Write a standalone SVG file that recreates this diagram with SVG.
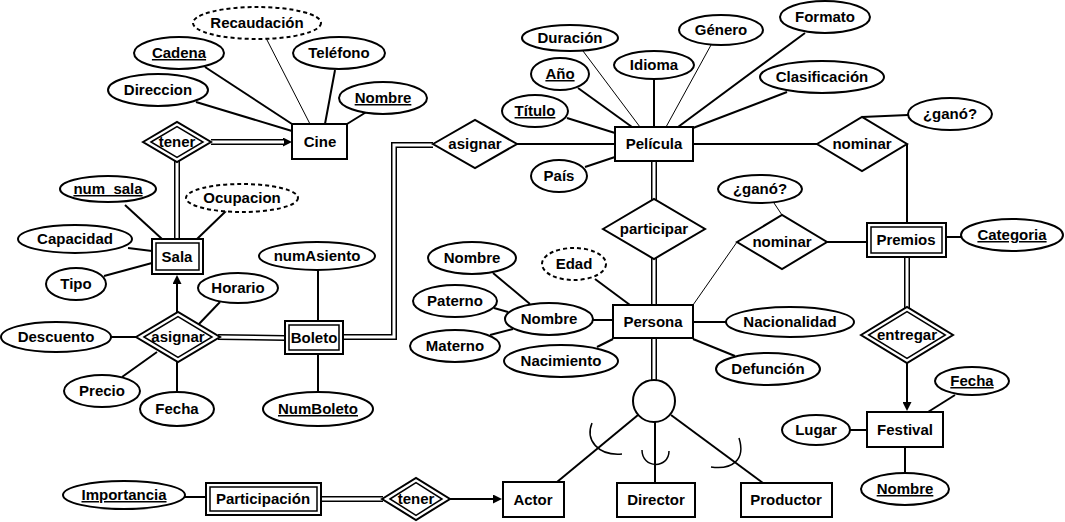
<svg xmlns="http://www.w3.org/2000/svg" width="1065" height="522" viewBox="0 0 1065 522">
<defs>
<marker id="arr" viewBox="0 0 10 10" refX="0" refY="5" markerWidth="10" markerHeight="9" markerUnits="userSpaceOnUse" orient="auto"><path d="M0,0 L10,5 L0,10 z" fill="#000"/></marker>
<style>
.e{fill:#fff;stroke:#000;stroke-width:2}
.d{stroke-dasharray:4 3}
.r{fill:#fff;stroke:#000;stroke-width:2}
.ri{fill:none;stroke:#000;stroke-width:1.5}
.t{font-family:"Liberation Sans",Arial,sans-serif;font-weight:bold;font-size:15px;text-anchor:middle;fill:#000}
.u{text-decoration:underline}
.l{stroke:#000;stroke-width:2;fill:none}
.th{stroke:#000;stroke-width:1;fill:none}
.bo{stroke:#000;stroke-width:6;fill:none}
.bi{stroke:#fff;stroke-width:3;fill:none}
.a{stroke:#000;stroke-width:1.5;fill:none}
</style>
</defs>
<rect width="1065" height="522" fill="#fff"/>
<g id="connectors">
<!-- Cine -->
<line class="l" x1="205" y1="67" x2="292" y2="124"/>
<line class="l" x1="196" y1="102" x2="292" y2="131"/>
<line class="th" x1="266" y1="38" x2="310" y2="124"/>
<line class="l" x1="335" y1="70" x2="325" y2="124"/>
<line class="l" x1="368" y1="111" x2="347" y2="124"/>
<path class="bo" d="M211,142 L283,142" marker-end="url(#arr)"/>
<path class="bi" d="M208,142 L284,142"/>
<path class="bo" d="M177,160 L177,239"/>
<path class="bi" d="M177,158 L177,240"/>
<!-- Sala -->
<line class="l" x1="125" y1="205" x2="162" y2="239"/>
<line class="l" x1="226" y1="211" x2="197" y2="239"/>
<line class="l" x1="128" y1="248" x2="152" y2="251"/>
<line class="l" x1="104" y1="276" x2="152" y2="263"/>
<path class="l" d="M177,312 L177,284" marker-end="url(#arr)"/>
<!-- asignar left -->
<line class="l" x1="220" y1="302" x2="198" y2="325"/>
<line class="l" x1="110" y1="337" x2="136" y2="337"/>
<line class="l" x1="122" y1="377" x2="157" y2="352"/>
<line class="l" x1="177" y1="362" x2="177" y2="392"/>
<path class="bo" d="M218,337 L285,338"/>
<path class="bi" d="M216,337 L286,338"/>
<!-- Boleto -->
<line class="l" x1="318" y1="270" x2="318" y2="321"/>
<line class="l" x1="318" y1="354" x2="318" y2="391"/>
<path class="bo" d="M343,337 L394,337 L394,145 L433,145"/>
<path class="bi" d="M342,337 L394,337 L394,145 L434,145"/>
<!-- Pelicula -->
<line class="l" x1="517" y1="144" x2="615" y2="144"/>
<line class="th" x1="583" y1="51" x2="640" y2="127"/>
<line class="l" x1="578" y1="88" x2="632" y2="127"/>
<line class="l" x1="567" y1="118" x2="615" y2="133"/>
<line class="l" x1="654" y1="79" x2="654" y2="127"/>
<line class="th" x1="711" y1="45" x2="666" y2="127"/>
<line class="l" x1="805" y1="33" x2="678" y2="127"/>
<line class="l" x1="787" y1="92" x2="693" y2="128"/>
<line class="l" x1="585" y1="167" x2="615" y2="157"/>
<line class="l" x1="693" y1="144" x2="817" y2="144"/>
<polyline class="l" points="862,117 908,115"/>
<line class="l" x1="907" y1="144" x2="907" y2="223"/>
<path class="bo" d="M654,161 L654,200"/>
<path class="bi" d="M654,160 L654,201"/>
<path class="bo" d="M654,258 L654,305"/>
<path class="bi" d="M654,257 L654,306"/>
<path class="bo" d="M654,338 L654,381"/>
<path class="bi" d="M654,337 L654,382"/>
<!-- Persona -->
<line class="l" x1="493" y1="273" x2="530" y2="304"/>
<line class="l" x1="494" y1="308" x2="508" y2="312"/>
<line class="l" x1="490" y1="335" x2="513" y2="329"/>
<line class="l" x1="593" y1="320" x2="613" y2="320"/>
<line class="l" x1="595" y1="279" x2="630" y2="305"/>
<line class="l" x1="597" y1="347" x2="613" y2="339"/>
<line class="l" x1="693" y1="322" x2="726" y2="322"/>
<line class="l" x1="693" y1="339" x2="735" y2="356"/>
<line class="th" x1="693" y1="305" x2="737" y2="242"/>
<line class="th" x1="774" y1="203" x2="782" y2="215"/>
<line class="l" x1="827" y1="242" x2="867" y2="242"/>
<!-- Premios / Festival -->
<line class="l" x1="946" y1="237" x2="961" y2="237"/>
<path class="bo" d="M907,257 L907,308"/>
<path class="bi" d="M907,256 L907,309"/>
<path class="l" d="M907,363 L907,402" marker-end="url(#arr)"/>
<line class="l" x1="955" y1="395" x2="928" y2="412"/>
<line class="l" x1="850" y1="430" x2="867" y2="430"/>
<line class="l" x1="905" y1="447" x2="905" y2="473"/>
<!-- ISA -->
<line class="l" x1="638" y1="415" x2="557" y2="482"/>
<line class="l" x1="655" y1="422" x2="655" y2="483"/>
<line class="l" x1="671" y1="415" x2="763" y2="483"/>
<path class="a" d="M592,423 C585,440 598,456 622,454"/>
<path class="a" d="M642,450 C642,469 669,469 669,451"/>
<path class="a" d="M739,438 C746,460 732,470 711,467"/>
<!-- bottom -->
<line class="l" x1="185" y1="497" x2="206" y2="497"/>
<path class="bo" d="M321,499 L383,499"/>
<path class="bi" d="M320,499 L384,499"/>
<path class="l" d="M449,499 L493,499" marker-end="url(#arr)"/>
</g>

<g id="cine"><rect class="r" x="292" y="124" width="55" height="35"/><text class="t" x="320" y="147">Cine</text></g>
<g id="recaudacion"><ellipse class="e d" cx="257" cy="23" rx="64" ry="16"/><text class="t" x="257" y="28">Recaudación</text></g>
<g id="cadena"><ellipse class="e" cx="179" cy="53" rx="45" ry="16"/><text class="t u" x="179" y="58">Cadena</text></g>
<g id="telefono"><ellipse class="e" cx="339" cy="53" rx="46" ry="16"/><text class="t" x="339" y="58">Teléfono</text></g>
<g id="direccion"><ellipse class="e" cx="158" cy="90" rx="50" ry="16"/><text class="t" x="158" y="95">Direccion</text></g>
<g id="nombre-cine"><ellipse class="e" cx="383" cy="98" rx="44" ry="16"/><text class="t u" x="383" y="103">Nombre</text></g>
<g id="tener-cine"><polygon class="r" points="143,142 177,122 211,142 177,162"/><polygon class="ri" points="151,142 177,126.6 203,142 177,157.4"/><text class="t" x="177" y="147">tener</text></g>

<g id="sala"><rect class="r" x="152" y="239" width="51" height="35"/><rect class="ri" x="156" y="243" width="43" height="27"/><text class="t" x="177" y="262">Sala</text></g>
<g id="num-sala"><ellipse class="e" cx="108" cy="189" rx="48" ry="13"/><text class="t u" x="108" y="194">num_sala</text></g>
<g id="ocupacion"><ellipse class="e d" cx="242" cy="198" rx="56" ry="14"/><text class="t" x="242" y="203">Ocupacion</text></g>
<g id="capacidad"><ellipse class="e" cx="75" cy="239" rx="57" ry="14"/><text class="t" x="75" y="244">Capacidad</text></g>
<g id="tipo"><ellipse class="e" cx="76" cy="284" rx="30" ry="16"/><text class="t" x="76" y="289">Tipo</text></g>

<g id="asignar-sala"><polygon class="r" points="136,337 178,312 220,337 178,362"/><polygon class="ri" points="144,337 178,316.7 212,337 178,357.3"/><text class="t" x="178" y="342">asignar</text></g>
<g id="horario"><ellipse class="e" cx="238" cy="288" rx="40" ry="15"/><text class="t" x="238" y="293">Horario</text></g>
<g id="descuento"><ellipse class="e" cx="56" cy="337" rx="55" ry="15"/><text class="t" x="56" y="342">Descuento</text></g>
<g id="precio"><ellipse class="e" cx="102" cy="391" rx="38" ry="16"/><text class="t" x="102" y="396">Precio</text></g>
<g id="fecha-asig"><ellipse class="e" cx="177" cy="409" rx="37" ry="17"/><text class="t" x="177" y="414">Fecha</text></g>

<g id="boleto"><rect class="r" x="285" y="321" width="58" height="33"/><rect class="ri" x="289" y="325" width="50" height="25"/><text class="t" x="314" y="343">Boleto</text></g>
<g id="numasiento"><ellipse class="e" cx="317" cy="256" rx="58" ry="14"/><text class="t" x="317" y="261">numAsiento</text></g>
<g id="numboleto"><ellipse class="e" cx="318" cy="409" rx="55" ry="17"/><text class="t u" x="318" y="414">NumBoleto</text></g>

<g id="asignar-pel"><polygon class="r" points="433,144 475,120 517,144 475,168"/><text class="t" x="475" y="149">asignar</text></g>

<g id="pelicula"><rect class="r" x="615" y="127" width="78" height="34"/><text class="t" x="654" y="149">Película</text></g>
<g id="duracion"><ellipse class="e" cx="570" cy="38" rx="48" ry="13"/><text class="t" x="570" y="43">Duración</text></g>
<g id="anio"><ellipse class="e" cx="560" cy="74" rx="29" ry="16"/><text class="t u" x="560" y="79">Año</text></g>
<g id="titulo"><ellipse class="e" cx="535" cy="111" rx="33" ry="16"/><text class="t u" x="535" y="116">Título</text></g>
<g id="idioma"><ellipse class="e" cx="654" cy="65" rx="40" ry="14"/><text class="t" x="654" y="70">Idioma</text></g>
<g id="genero"><ellipse class="e" cx="721" cy="30" rx="42" ry="15"/><text class="t" x="721" y="35">Género</text></g>
<g id="formato"><ellipse class="e" cx="825" cy="17" rx="45" ry="16"/><text class="t" x="825" y="22">Formato</text></g>
<g id="clasificacion"><ellipse class="e" cx="822" cy="77" rx="62" ry="16"/><text class="t" x="822" y="82">Clasificación</text></g>
<g id="pais"><ellipse class="e" cx="559" cy="176" rx="28" ry="16"/><text class="t" x="559" y="181">País</text></g>
<g id="nominar-pel"><polygon class="r" points="817,144 862,117 907,144 862,171"/><text class="t" x="862" y="149">nominar</text></g>
<g id="gano-pel"><ellipse class="e" cx="950" cy="114" rx="42" ry="16"/><text class="t" x="950" y="119">¿ganó?</text></g>

<g id="participar"><polygon class="r" points="603,229 654,199 705,229 654,259"/><text class="t" x="654" y="234">participar</text></g>
<g id="persona"><rect class="r" x="613" y="305" width="80" height="33"/><text class="t" x="653" y="327">Persona</text></g>
<g id="edad"><ellipse class="e d" cx="574" cy="264" rx="32" ry="16"/><text class="t" x="574" y="269">Edad</text></g>
<g id="nombre-top"><ellipse class="e" cx="472" cy="258" rx="44" ry="16"/><text class="t" x="472" y="263">Nombre</text></g>
<g id="paterno"><ellipse class="e" cx="455" cy="301" rx="42" ry="16"/><text class="t" x="455" y="306">Paterno</text></g>
<g id="nombre-comp"><ellipse class="e" cx="549" cy="319" rx="44" ry="16"/><text class="t" x="549" y="324">Nombre</text></g>
<g id="materno"><ellipse class="e" cx="455" cy="346" rx="45" ry="16"/><text class="t" x="455" y="351">Materno</text></g>
<g id="nacimiento"><ellipse class="e" cx="561" cy="361" rx="57" ry="16"/><text class="t" x="561" y="366">Nacimiento</text></g>
<g id="nacionalidad"><ellipse class="e" cx="790" cy="322" rx="64" ry="15"/><text class="t" x="790" y="327">Nacionalidad</text></g>
<g id="defuncion"><ellipse class="e" cx="768" cy="369" rx="52" ry="16"/><text class="t" x="768" y="374">Defunción</text></g>
<g id="nominar-per"><polygon class="r" points="737,242 782,215 827,242 782,269"/><text class="t" x="782" y="247">nominar</text></g>
<g id="gano-per"><ellipse class="e" cx="760" cy="189" rx="42" ry="14"/><text class="t" x="760" y="194">¿ganó?</text></g>

<g id="premios"><rect class="r" x="867" y="223" width="79" height="34"/><rect class="ri" x="871" y="227" width="71" height="26"/><text class="t" x="906" y="245">Premios</text></g>
<g id="categoria"><ellipse class="e" cx="1012" cy="235" rx="51" ry="16"/><text class="t u" x="1012" y="240">Categoria</text></g>
<g id="entregar"><polygon class="r" points="861,335 907,307 953,335 907,363"/><polygon class="ri" points="868.7,335 907,311.7 945.3,335 907,358.3"/><text class="t" x="907" y="340">entregar</text></g>
<g id="festival"><rect class="r" x="867" y="412" width="76" height="35"/><text class="t" x="905" y="435">Festival</text></g>
<g id="fecha-fest"><ellipse class="e" cx="972" cy="381" rx="37" ry="14"/><text class="t u" x="972" y="386">Fecha</text></g>
<g id="lugar"><ellipse class="e" cx="816" cy="430" rx="34" ry="15"/><text class="t" x="816" y="435">Lugar</text></g>
<g id="nombre-fest"><ellipse class="e" cx="905" cy="489" rx="44" ry="16"/><text class="t u" x="905" y="494">Nombre</text></g>

<g id="isa"><circle class="e" cx="654" cy="401" r="21"/></g>
<g id="actor"><rect class="r" x="503" y="482" width="61" height="35"/><text class="t" x="533" y="505">Actor</text></g>
<g id="director"><rect class="r" x="617" y="483" width="78" height="34"/><text class="t" x="656" y="505">Director</text></g>
<g id="productor"><rect class="r" x="741" y="483" width="91" height="34"/><text class="t" x="786" y="505">Productor</text></g>

<g id="participacion"><rect class="r" x="206" y="483" width="115" height="32"/><rect class="ri" x="210" y="487" width="107" height="24"/><text class="t" x="263" y="504">Participación</text></g>
<g id="importancia"><ellipse class="e" cx="124" cy="495" rx="61" ry="14"/><text class="t u" x="124" y="500">Importancia</text></g>
<g id="tener-actor"><polygon class="r" points="382,499 416,478 450,499 416,520"/><polygon class="ri" points="390,499 416,482.7 442,499 416,515.3"/><text class="t" x="416" y="504">tener</text></g>
</svg>
